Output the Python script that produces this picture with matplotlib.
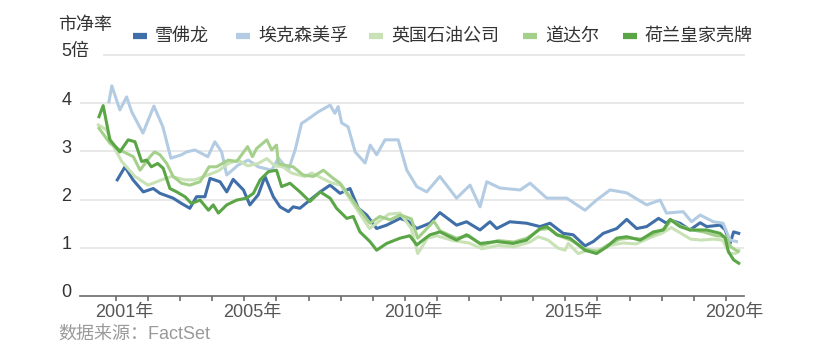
import matplotlib
matplotlib.use("Agg")
import matplotlib.pyplot as plt
from matplotlib.lines import Line2D

FAM = ['Liberation Sans', 'Noto Sans CJK SC', 'DejaVu Sans']
plt.rcParams['font.family'] = FAM

names = ['雪佛龙', '埃克森美孚', '英国石油公司', '道达尔', '荷兰皇家壳牌']
colors = ['#3f6ea8', '#b3cce3', '#c8e2b6', '#a5d08c', '#5aa546']

cvx_t = [2001.04, 2001.28, 2001.53, 2001.85, 2002.16, 2002.37, 2002.78, 2003.04, 2003.3, 2003.51,
         2003.77, 2003.93, 2004.24, 2004.45, 2004.65, 2004.97, 2005.17, 2005.43, 2005.64, 2005.9,
         2006.11, 2006.37, 2006.52, 2006.73, 2007.04, 2007.36, 2007.67, 2007.98, 2008.29, 2008.55,
         2008.81, 2009.12, 2009.43, 2009.85, 2010.1, 2010.37, 2010.78, 2011.09, 2011.61, 2011.92,
         2012.34, 2012.65, 2012.86, 2013.27, 2013.79, 2014.21, 2014.52, 2014.93, 2015.24, 2015.61,
         2015.87, 2016.18, 2016.6, 2016.91, 2017.22, 2017.53, 2017.9, 2018.15, 2018.26, 2018.57,
         2018.88, 2019.2, 2019.4, 2019.82, 2019.98, 2020.13, 2020.24, 2020.4]
cvx_v = [2.41, 2.68, 2.41, 2.16, 2.23, 2.13, 2.03, 1.92, 1.82, 2.06,
         2.06, 2.44, 2.37, 2.16, 2.42, 2.20, 1.89, 2.10, 2.48, 2.06,
         1.85, 1.75, 1.85, 1.82, 1.99, 2.16, 2.30, 2.13, 2.23, 1.82,
         1.68, 1.40, 1.47, 1.61, 1.55, 1.40, 1.51, 1.73, 1.47, 1.54,
         1.37, 1.54, 1.40, 1.54, 1.51, 1.44, 1.51, 1.30, 1.27, 1.04,
         1.13, 1.30, 1.40, 1.59, 1.40, 1.44, 1.61, 1.51, 1.58, 1.51,
         1.37, 1.52, 1.44, 1.47, 1.37, 1.09, 1.33, 1.30]

xom_t = [2000.78, 2000.87, 2001.12, 2001.33, 2001.49, 2001.84, 2002.18, 2002.46, 2002.71, 2003.04,
         2003.2, 2003.46, 2003.86, 2004.08, 2004.29, 2004.45, 2004.81, 2005.12, 2005.43, 2005.85,
         2006.06, 2006.37, 2006.58, 2006.78, 2006.94, 2007.3, 2007.67, 2007.82, 2007.92, 2008.03,
         2008.23, 2008.45, 2008.76, 2008.92, 2009.12, 2009.38, 2009.79, 2010.06, 2010.37, 2010.68,
         2011.09, 2011.61, 2012.03, 2012.34, 2012.55, 2012.96, 2013.59, 2013.9, 2014.42, 2015.04,
         2015.61, 2015.97, 2016.39, 2016.91, 2017.53, 2017.95, 2018.15, 2018.67, 2018.93, 2019.2,
         2019.61, 2019.91, 2020.13, 2020.33]
xom_v = [4.03, 4.36, 3.86, 4.13, 3.82, 3.38, 3.94, 3.51, 2.86, 2.93,
         2.99, 3.03, 2.89, 3.20, 2.99, 2.51, 2.72, 2.82, 2.68, 2.61,
         2.86, 2.61, 3.03, 3.58, 3.65, 3.82, 3.96, 3.79, 3.93, 3.59,
         3.51, 2.99, 2.76, 3.13, 2.93, 3.24, 3.24, 2.61, 2.27, 2.16,
         2.48, 2.03, 2.30, 1.85, 2.37, 2.24, 2.20, 2.34, 2.03, 2.03,
         1.78, 1.99, 2.20, 2.14, 1.89, 1.99, 1.72, 1.75, 1.54, 1.68,
         1.54, 1.51, 1.16, 1.13]

bp_t = [2000.45, 2000.7, 2000.87, 2001.18, 2001.59, 2002.0, 2002.42, 2002.73, 2003.15, 2003.46,
        2003.86, 2004.2, 2004.5, 2004.8, 2005.1, 2005.43, 2005.7, 2005.95, 2006.2, 2006.47,
        2006.89, 2007.1, 2007.4, 2007.7, 2008.0, 2008.3, 2008.6, 2008.9, 2009.2, 2009.5,
        2009.85, 2010.2, 2010.4, 2010.7, 2011.0, 2011.5, 2012.0, 2012.4, 2012.9, 2013.4,
        2013.9, 2014.15, 2014.46, 2014.78, 2014.99, 2015.09, 2015.4, 2015.7, 2016.0, 2016.4,
        2016.8, 2017.2, 2017.6, 2018.0, 2018.3, 2018.6, 2018.9, 2019.24, 2019.6, 2019.9,
        2020.1, 2020.3, 2020.4]
bp_v = [3.55, 3.45, 3.17, 2.79, 2.48, 2.30, 2.41, 2.48, 2.41, 2.41,
        2.51, 2.60, 2.75, 2.82, 2.70, 2.75, 2.85, 2.70, 2.68, 2.55,
        2.48, 2.55, 2.45, 2.35, 2.30, 2.00, 1.70, 1.40, 1.55, 1.70,
        1.72, 1.40, 0.88, 1.20, 1.25, 1.15, 1.10, 0.98, 1.05, 1.02,
        1.12, 1.23, 1.16, 0.99, 0.95, 1.09, 0.88, 0.95, 0.95, 1.05,
        1.10, 1.08, 1.20, 1.30, 1.42, 1.30, 1.18, 1.16, 1.18, 1.16,
        0.89, 0.88, 0.95]

tot_t = [2000.47, 2000.81, 2001.12, 2001.54, 2001.75, 2002.06, 2002.2, 2002.37, 2002.58, 2002.78,
         2003.04, 2003.3, 2003.62, 2003.9, 2004.13, 2004.5, 2004.76, 2005.1, 2005.25, 2005.38,
         2005.7, 2005.85, 2006.0, 2006.06, 2006.21, 2006.52, 2006.83, 2007.15, 2007.46, 2007.77,
         2007.98, 2008.29, 2008.6, 2008.91, 2009.22, 2009.54, 2009.85, 2010.2, 2010.4, 2010.9,
         2011.1, 2011.6, 2012.0, 2012.4, 2012.9, 2013.4, 2013.8, 2014.2, 2014.5, 2014.8,
         2015.2, 2015.6, 2016.0, 2016.3, 2016.7, 2017.0, 2017.4, 2017.8, 2018.1, 2018.3,
         2018.6, 2018.95, 2019.3, 2019.7, 2020.0, 2020.15, 2020.38]
tot_v = [3.48, 3.17, 3.03, 2.89, 2.61, 2.89, 2.99, 2.93, 2.75, 2.48,
         2.34, 2.30, 2.37, 2.68, 2.68, 2.82, 2.79, 3.10, 2.89, 3.06,
         3.24, 3.03, 3.13, 2.75, 2.72, 2.68, 2.51, 2.48, 2.61, 2.44,
         2.34, 2.06, 1.78, 1.51, 1.65, 1.58, 1.68, 1.60, 1.20, 1.55,
         1.35, 1.20, 1.25, 1.05, 1.15, 1.12, 1.20, 1.38, 1.40, 1.25,
         1.15, 0.98, 0.92, 1.05, 1.18, 1.20, 1.18, 1.30, 1.40, 1.58,
         1.45, 1.37, 1.33, 1.25, 1.23, 1.02, 0.92]

shell_t = [2000.47, 2000.6, 2000.81, 2001.12, 2001.38, 2001.59, 2001.8, 2001.95, 2002.1, 2002.3,
           2002.47, 2002.68, 2002.89, 2003.15, 2003.35, 2003.62, 2003.88, 2004.03, 2004.19, 2004.45,
           2004.76, 2005.07, 2005.28, 2005.49, 2005.75, 2006.0, 2006.16, 2006.42, 2006.73, 2007.04,
           2007.36, 2007.67, 2007.87, 2008.19, 2008.39, 2008.6, 2008.91, 2009.12, 2009.43, 2009.85,
           2010.15, 2010.37, 2010.78, 2011.09, 2011.61, 2011.92, 2012.34, 2012.86, 2013.37, 2013.79,
           2014.21, 2014.42, 2014.73, 2015.14, 2015.61, 2015.97, 2016.29, 2016.6, 2016.91, 2017.33,
           2017.74, 2018.05, 2018.26, 2018.57, 2018.88, 2019.4, 2019.82, 2019.98, 2020.08, 2020.24,
           2020.4]
shell_v = [3.72, 3.95, 3.24, 2.99, 3.24, 3.20, 2.79, 2.82, 2.68, 2.75,
           2.65, 2.23, 2.16, 2.06, 1.92, 1.99, 1.78, 1.89, 1.72, 1.89,
           1.99, 2.03, 2.13, 2.41, 2.58, 2.61, 2.27, 2.34, 2.16, 1.96,
           2.16, 2.03, 1.82, 1.61, 1.65, 1.33, 1.13, 0.95, 1.09, 1.20,
           1.25, 1.06, 1.27, 1.33, 1.16, 1.27, 1.09, 1.13, 1.09, 1.16,
           1.40, 1.44, 1.27, 1.20, 0.95, 0.88, 1.02, 1.20, 1.23, 1.16,
           1.33, 1.37, 1.59, 1.44, 1.37, 1.37, 1.30, 1.20, 0.92, 0.75,
           0.68]

series_t = [cvx_t, xom_t, bp_t, tot_t, shell_t]
series_v = [cvx_v, xom_v, bp_v, tot_v, shell_v]

year_ticks = list(range(2001, 2021))
labeled_years = [2001, 2005, 2010, 2015, 2020]
y_ticks = [0, 1, 2, 3, 4, 5]
y_labels = ['0', '1', '2', '3', '4', '5倍']

FS = 13
W, H = 829, 353
fig = plt.figure(figsize=(W / 100, H / 100), dpi=100)
ax_l, ax_r, ax_b, ax_t = 80, 744, 296, 55
ax = fig.add_axes([ax_l / W, 1 - ax_b / H, (ax_r - ax_l) / W, (ax_b - ax_t) / H])
x0 = 2001 - (116 - ax_l) / 32.1
x1 = 2001 + (ax_r - 116) / 32.1
ax.set_xlim(x0, x1)
ax.set_ylim(0, 5)

for s in ['top', 'right', 'left']:
    ax.spines[s].set_visible(False)
ax.spines['bottom'].set_color('#6b6b6b')
ax.spines['bottom'].set_linewidth(1.2)

for v in [1, 2, 3, 4]:
    ax.axhline(v, color='#e4e4e4', lw=1.2, zorder=0)
ax.axhline(5, xmin=(104 - ax_l) / (ax_r - ax_l), color='#e4e4e4', lw=1.2, zorder=0, clip_on=False)

order = [1, 2, 3, 4, 0]
for i in order:
    ax.plot(series_t[i], series_v[i], color=colors[i], lw=2.2, solid_joinstyle='round', zorder=2 + i)

ax.set_xticks(year_ticks)
ax.set_xticklabels([])
ax.tick_params(axis='x', direction='out', length=3.5, width=1.2, color='#6b6b6b')
ax.set_yticks([])

for yr in labeled_years:
    ax.annotate(f'{yr}年', xy=(yr, 0), xycoords='data', xytext=(-15, -5.5), textcoords='offset points',
                ha='left', va='top', fontsize=FS, color='#555555', family=FAM)

for v, lab in zip(y_ticks, y_labels):
    ax.annotate(lab, xy=(0, v), xycoords=('axes fraction', 'data'), xytext=(-13.5, 2.2), textcoords='offset points',
                ha='left', va='center', fontsize=FS, color='#333333', family=FAM)

fig.text(58 / W, 1 - 25 / H, '市净率', ha='left', va='center', fontsize=FS, color='#333333', family=FAM)
fig.text(58 / W, 1 - 334 / H, '数据来源：FactSet', ha='left', va='center', fontsize=FS, color='#9a9a9a', family=FAM)

leg_x = [133, 236, 369, 523, 623]
leg_y = 1 - 36 / H
for i, xh in enumerate(leg_x):
    fig.add_artist(Line2D([xh / W, (xh + 14) / W], [leg_y, leg_y], color=colors[i], lw=4.5,
                          solid_capstyle='butt', transform=fig.transFigure))
    fig.text((xh + 22) / W, leg_y, names[i], ha='left', va='center', fontsize=FS, color='#333333', family=FAM)

fig.savefig('out.png', dpi=100)
